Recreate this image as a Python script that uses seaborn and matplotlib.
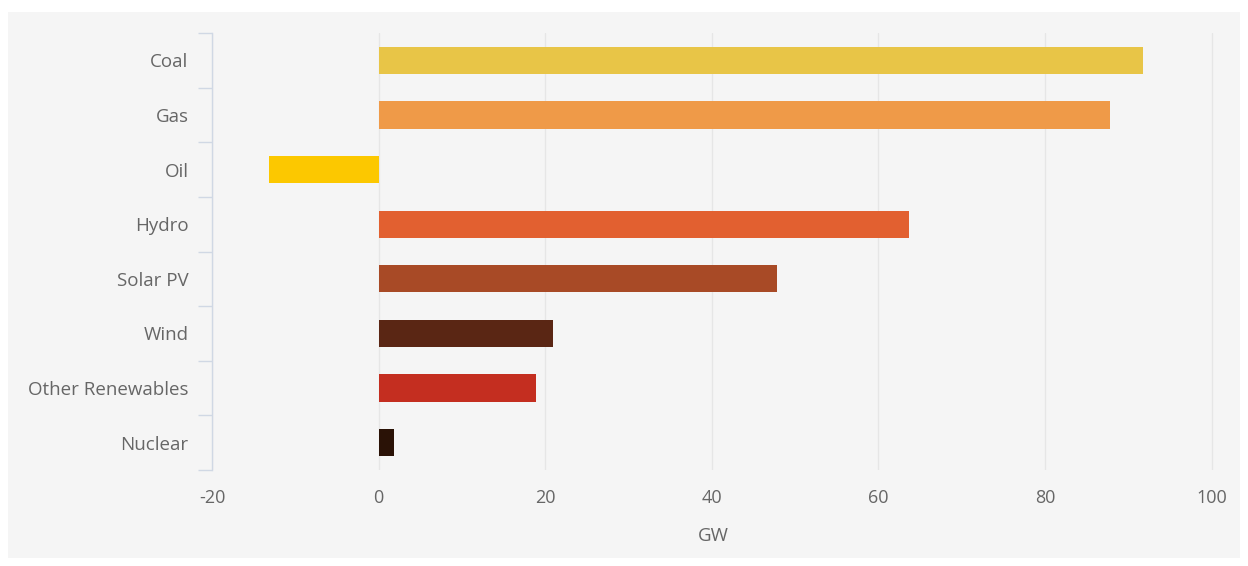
import matplotlib
matplotlib.use("Agg")
import matplotlib.pyplot as plt
from matplotlib.patches import Rectangle
import seaborn as sns
import pandas as pd

categories = ["Coal", "Gas", "Oil", "Hydro", "Solar PV", "Wind", "Other Renewables", "Nuclear"]
capacity_gw = [91.7, 87.8, -13.1, 63.7, 47.8, 20.9, 18.9, 1.8]
colors = ["#e8c547", "#ef9a48", "#fcc800", "#e26030", "#a84a26", "#5a2614", "#c42e20", "#2a1206"]
x_ticks = [-20, 0, 20, 40, 60, 80, 100]
x_label = "GW"

df = pd.DataFrame({"category": categories, "gw": capacity_gw})

sns.set_theme(style="white")
plt.rcParams["font.family"] = ["Open Sans", "DejaVu Sans"]

W, H = 1248, 566
fig = plt.figure(figsize=(W / 100, H / 100), dpi=100, facecolor="white")
panel_bg = "#f5f5f5"
fig.add_artist(Rectangle((8 / W, 8 / H), 1232 / W, 546 / H,
                         transform=fig.transFigure, facecolor=panel_bg,
                         edgecolor="none", zorder=-10))

left, right, top, bottom = 212, 1215, 33, 470
ax = fig.add_axes([left / W, 1 - bottom / H, (right - left) / W, (bottom - top) / H])
ax.set_zorder(1)
ax.set_facecolor(panel_bg)

sns.barplot(data=df, y="category", x="gw", hue="category", palette=colors,
            order=categories, hue_order=categories, orient="h",
            width=0.5, legend=False, ax=ax, zorder=3, saturation=1, linewidth=0)

ax.set_xlim(-20, 100.4)
ax.set_ylim(len(categories) - 0.5, -0.5)
ax.set_xticks(x_ticks)
ax.set_xticklabels([str(t) for t in x_ticks])
ax.xaxis.grid(True, color="#e6e6e6", linewidth=1, zorder=0)
ax.set_axisbelow(True)

axis_line = "#d0d8e4"
for side in ["top", "right", "bottom"]:
    ax.spines[side].set_visible(False)
ax.spines["left"].set_color(axis_line)
ax.spines["left"].set_linewidth(1)

ax.set_yticks(range(len(categories)))
ax.set_yticklabels(categories)
ax.set_yticks([i - 0.5 for i in range(len(categories) + 1)], minor=True)
ax.tick_params(axis="y", which="major", left=False, length=0, pad=17,
               labelsize=13.5, labelcolor="#666666")
ax.tick_params(axis="y", which="minor", left=True, length=10, width=1,
               color=axis_line, direction="out")
ax.tick_params(axis="x", which="major", bottom=False, length=0, pad=14,
               labelsize=13, labelcolor="#666666")

ax.set_ylabel("")
ax.set_xlabel(x_label, fontsize=13.5, color="#666666", labelpad=14)

fig.savefig("out.png", dpi=100, facecolor="white")
